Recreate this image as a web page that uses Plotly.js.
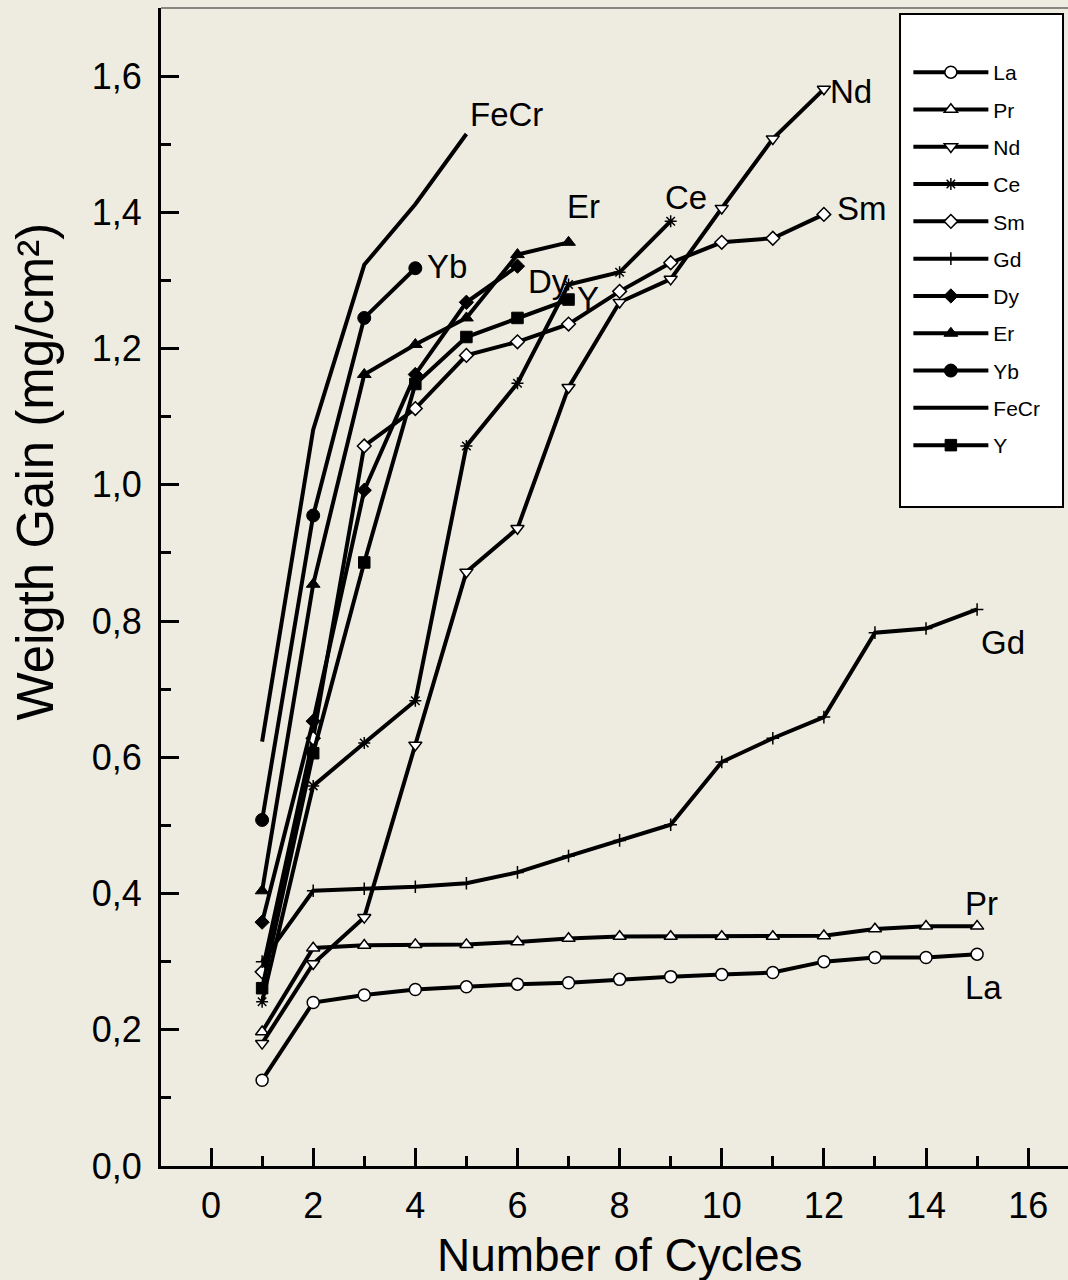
<!DOCTYPE html>
<html>
<head>
<meta charset="utf-8">
<script src="https://cdn.plot.ly/plotly-3.0.1.min.js"></script>
<style>
  html, body { margin: 0; padding: 0; background: #EEECE1; overflow: hidden; }
  #chart { width: 1068px; height: 1280px; }
</style>
</head>
<body>
<div id="chart"></div>
<script>
// ---- data ----
const cycles15 = [1,2,3,4,5,6,7,8,9,10,11,12,13,14,15];
const cycles12 = [1,2,3,4,5,6,7,8,9,10,11,12];
const cycles9  = [1,2,3,4,5,6,7,8,9];
const cycles7  = [1,2,3,4,5,6,7];
const cycles6  = [1,2,3,4,5,6];
const cycles5  = [1,2,3,4,5];
const cycles4  = [1,2,3,4];

const La   = [0.126,0.240,0.251,0.259,0.263,0.267,0.269,0.274,0.278,0.281,0.284,0.300,0.306,0.306,0.311];
const Pr   = [0.197,0.320,0.324,0.325,0.325,0.329,0.334,0.337,0.337,0.337,0.337,0.338,0.348,0.352,0.352];
const Nd   = [0.180,0.297,0.365,0.618,0.872,0.936,1.143,1.268,1.302,1.406,1.508,1.581];
const Ce   = [0.241,0.558,0.621,0.683,1.057,1.149,1.294,1.312,1.387];
const Sm   = [0.285,0.628,1.057,1.112,1.190,1.210,1.236,1.284,1.326,1.356,1.362,1.397];
const Gd   = [0.300,0.404,0.407,0.410,0.415,0.431,0.455,0.478,0.501,0.593,0.628,0.659,0.783,0.789,0.817];
const Dy   = [0.358,0.653,0.992,1.162,1.268,1.321];
const Er   = [0.404,0.854,1.162,1.206,1.245,1.338,1.356];
const Yb   = [0.508,0.955,1.245,1.318];
const FeCr = [0.623,1.081,1.323,1.412,1.515];
const Yv   = [0.261,0.606,0.886,1.148,1.217,1.245,1.272];

const seriesNames = ['La','Pr','Nd','Ce','Sm','Gd','Dy','Er','Yb','FeCr','Y'];

// in-plot labels
const labelText = ['FeCr','Yb','Er','Dy','Y','Ce','Nd','Sm','Gd','Pr','La'];
const labelX    = [5.03, 4.19, 6.93, 6.17, 7.12, 8.85, 12.08, 12.22, 15.04, 14.73, 14.73];
const labelY    = [1.543,1.320,1.408,1.299,1.274,1.422,1.577,1.405,0.769,0.385,0.262];

const xTitle = 'Number of Cycles';
const yTitle = 'Weigth Gain (mg/cm²)';

// ---- styling ----
const FONT = 'Arial, "Liberation Sans", Helvetica, sans-serif';
const BG = '#EEECE1';
function mk(name, x, y, symbol, size, fill, lw) {
  return {
    type: 'scatter', mode: 'lines+markers', name: name, x: x, y: y,
    line: { color: '#000', width: 4 },
    marker: { symbol: symbol, size: size, color: fill, line: { color: '#000', width: lw } },
    legendgroup: name, cliponaxis: false
  };
}

const traces = [
  mk(seriesNames[0], cycles15, La, 'circle', 12, '#fff', 1.5),
  mk(seriesNames[1], cycles15, Pr, 'triangle-up', 11.5, '#fff', 1.5),
  mk(seriesNames[2], cycles12, Nd, 'triangle-down', 11.5, '#fff', 1.5),
  mk(seriesNames[3], cycles9, Ce, 'asterisk-open', 10, '#000', 1.5),
  mk(seriesNames[4], cycles12, Sm, 'diamond', 10.5, '#fff', 1.5),
  mk(seriesNames[5], cycles15, Gd, 'cross-thin-open', 9, '#000', 1.5),
  mk(seriesNames[6], cycles6, Dy, 'diamond', 11, '#000', 1),
  mk(seriesNames[7], cycles7, Er, 'triangle-up', 12, '#000', 1),
  mk(seriesNames[8], cycles4, Yb, 'circle', 13, '#000', 1),
  { type: 'scatter', mode: 'lines', name: seriesNames[9], x: cycles5, y: FeCr,
    line: { color: '#000', width: 4 }, legendgroup: 'FeCr' },
  mk(seriesNames[10], cycles7, Yv, 'square', 11.5, '#000', 1)
];

const annotations = labelText.map((t, i) => ({
  x: labelX[i], y: labelY[i], xref: 'x', yref: 'y', text: t, showarrow: false,
  xanchor: 'left', yanchor: 'middle', font: { family: FONT, size: 33, color: '#000' }
}));
// axis titles placed as annotations for exact positioning
annotations.push({
  xref: 'paper', yref: 'paper', x: 0.506, y: -0.0769, text: xTitle, showarrow: false,
  xanchor: 'center', yanchor: 'middle', font: { family: FONT, size: 46, color: '#000' }
});
annotations.push({
  xref: 'paper', yref: 'paper', x: -0.1385, y: 0.600, text: yTitle, showarrow: false,
  textangle: -90, xanchor: 'center', yanchor: 'middle', font: { family: FONT, size: 51, color: '#000' }
});

const layout = {
  width: 1068, height: 1280,
  margin: { l: 161, r: 0, t: 8, b: 114, pad: 0 },
  paper_bgcolor: BG, plot_bgcolor: BG,
  separators: ',.',
  font: { family: FONT, color: '#000' },
  showlegend: true,
  legend: {
    x: 0.824, y: 0.962, xanchor: 'left', yanchor: 'top',
    bgcolor: 'rgba(0,0,0,0)', borderwidth: 0,
    font: { family: FONT, size: 21, color: '#000' },
    itemwidth: 75, tracegroupgap: 7, traceorder: 'grouped'
  },
  xaxis: {
    range: [-0.98, 16.78], dtick: 2, tick0: 0,
    ticks: 'inside', ticklen: 18, tickwidth: 3, tickcolor: '#000',
    minor: { dtick: 1, ticks: 'inside', ticklen: 10, tickwidth: 3, tickcolor: '#000' },
    showline: true, linewidth: 3, linecolor: '#000',
    showgrid: false, zeroline: false, ticklabelstandoff: 6,
    tickfont: { family: FONT, size: 36, color: '#000' }
  },
  yaxis: {
    range: [0, 1.7], dtick: 0.2, tick0: 0, tickformat: '.1f',
    ticks: 'inside', ticklen: 18, tickwidth: 3, tickcolor: '#000',
    minor: { dtick: 0.1, ticks: 'inside', ticklen: 10, tickwidth: 3, tickcolor: '#000' },
    showline: true, linewidth: 3, linecolor: '#000',
    showgrid: false, zeroline: false, ticklabelstandoff: 9,
    tickfont: { family: FONT, size: 36, color: '#000' }
  },
  shapes: [
    { type: 'line', xref: 'paper', yref: 'paper', x0: 0, x1: 1, y0: 1, y1: 1,
      line: { color: '#222', width: 1 }, layer: 'above' },
    { type: 'rect', xref: 'paper', yref: 'paper', x0: 0.8148, x1: 0.9945, y0: 0.5691, y1: 0.9948,
      fillcolor: '#fff', line: { color: '#000', width: 2 }, layer: 'above' }
  ],
  annotations: annotations
};

Plotly.newPlot('chart', traces, layout, { displayModeBar: false, staticPlot: true });
</script>
</body>
</html>
